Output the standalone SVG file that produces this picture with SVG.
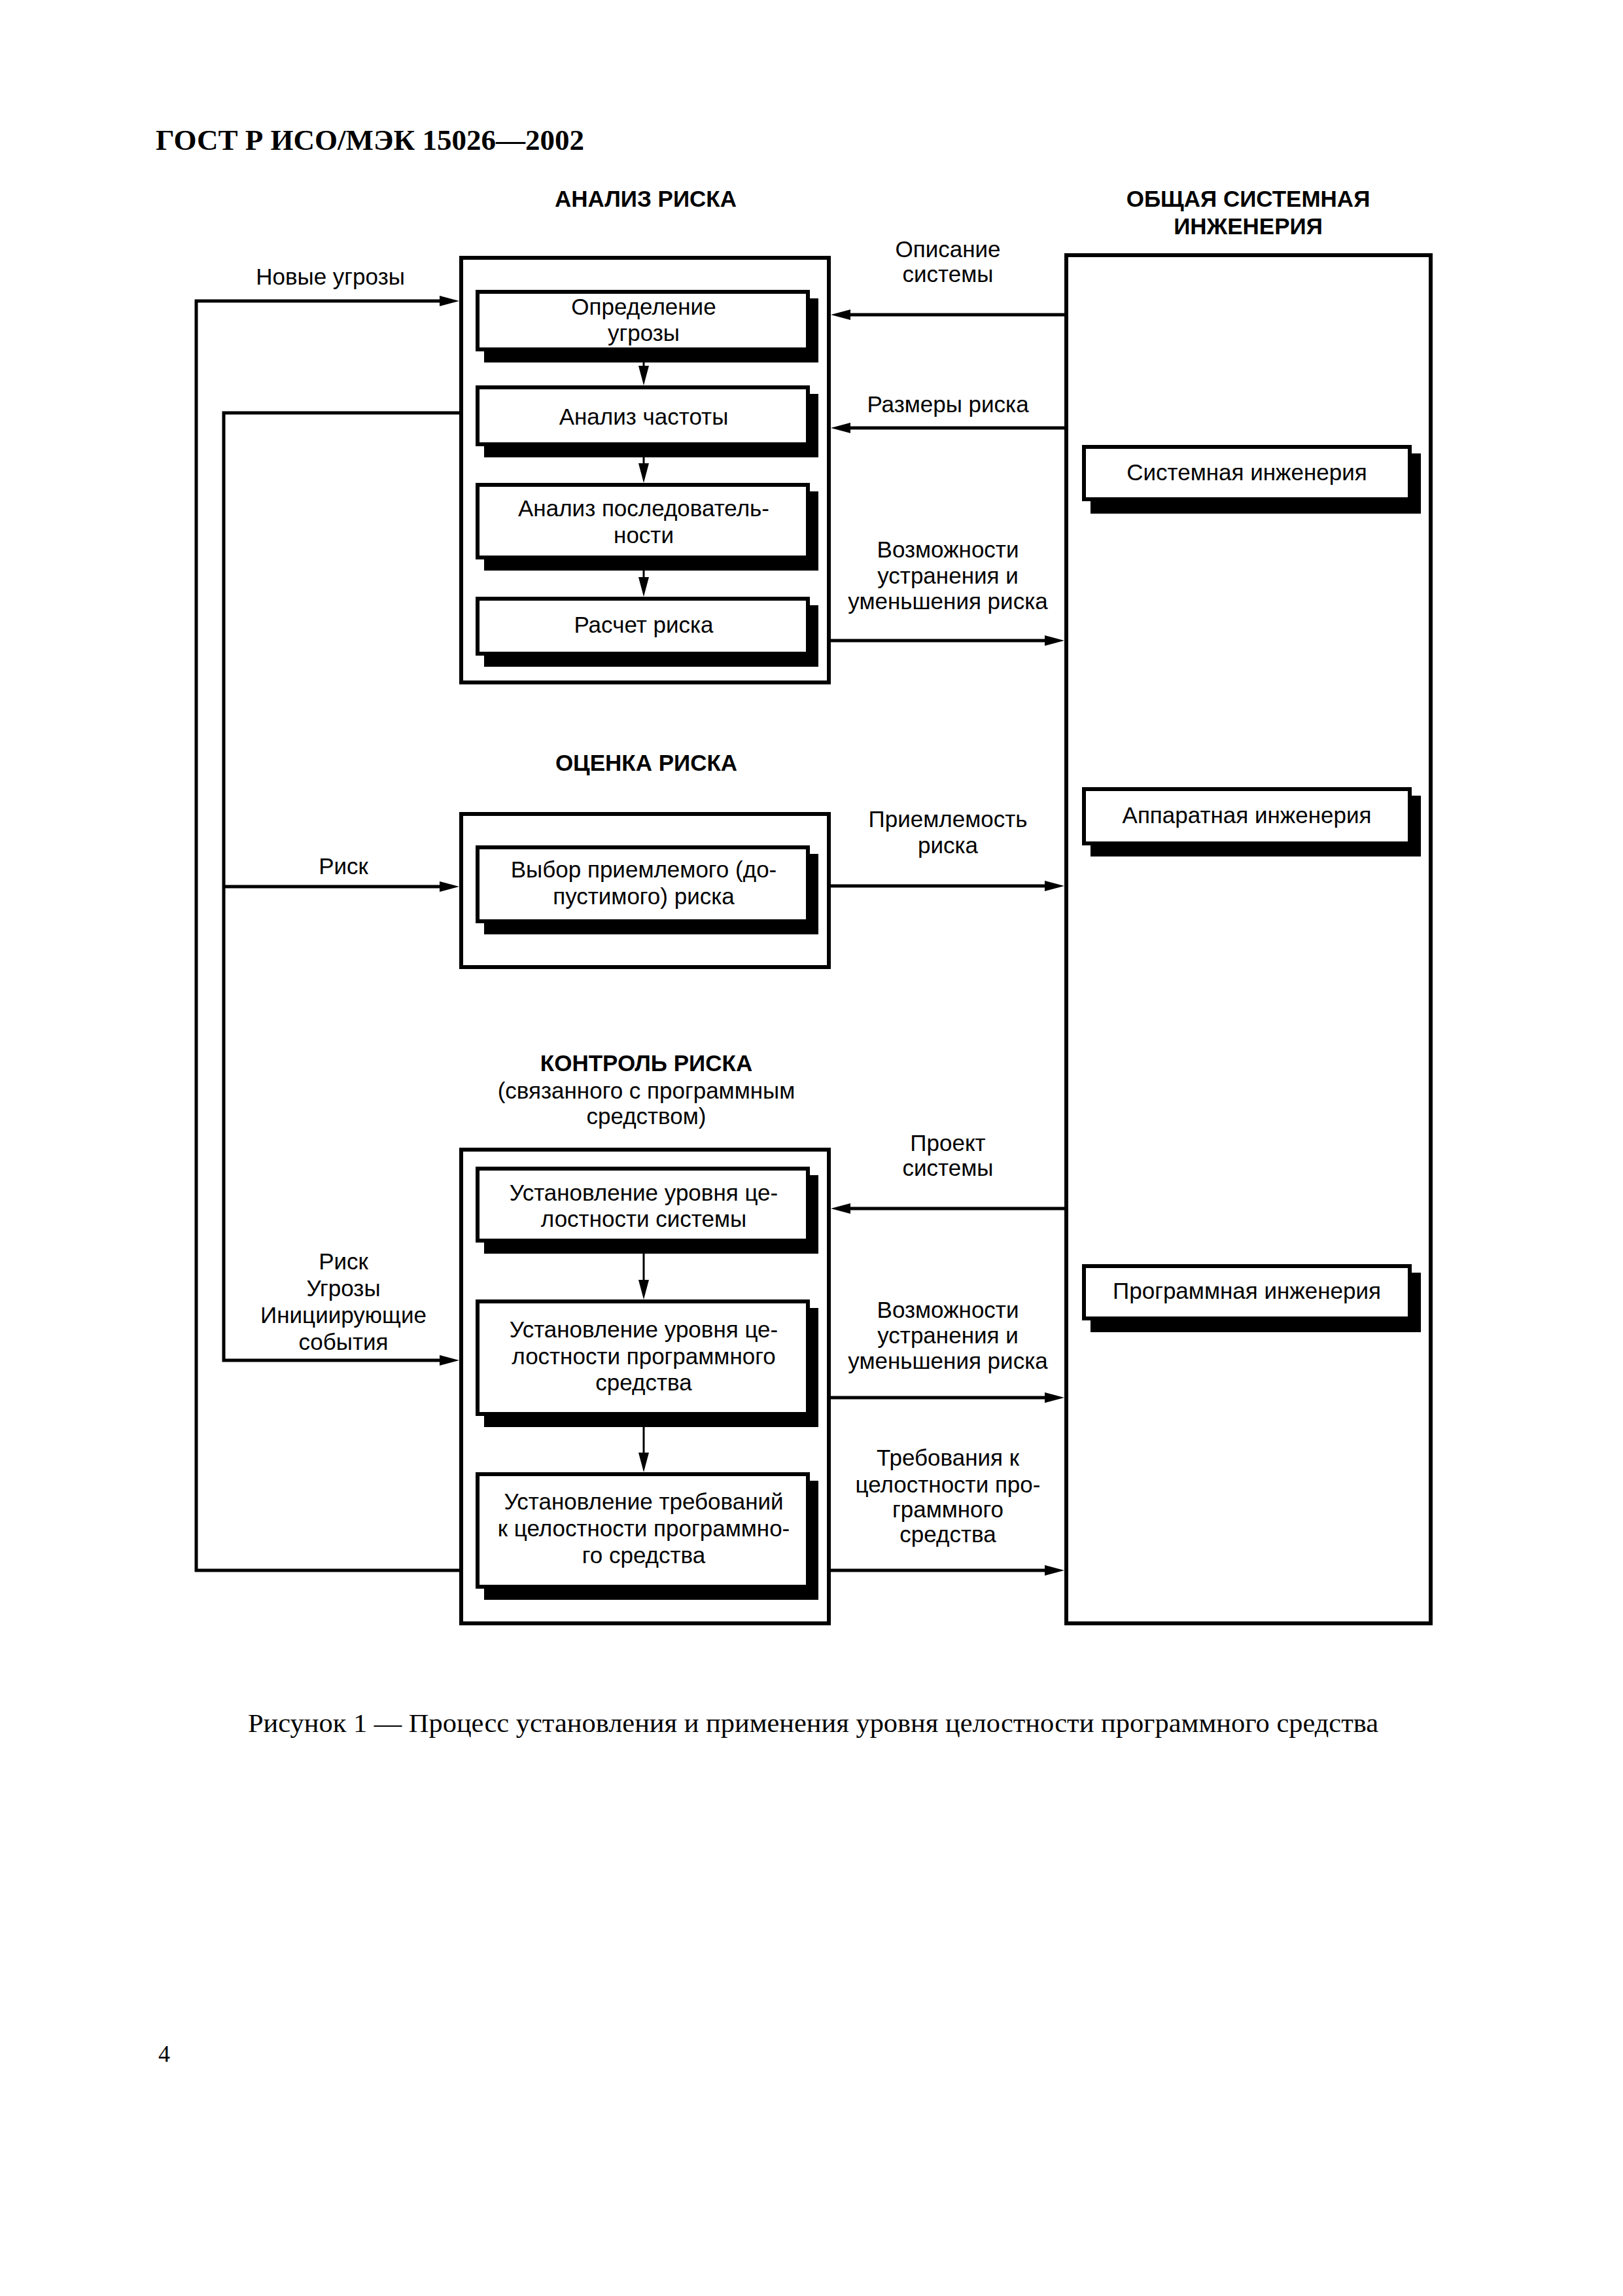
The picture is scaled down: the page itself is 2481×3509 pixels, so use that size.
<svg xmlns="http://www.w3.org/2000/svg" width="2481" height="3509" viewBox="0 0 2481 3509">
<defs>
<style>
.t{font-family:"Liberation Sans",Arial,sans-serif;font-size:35px;fill:#000;text-anchor:middle}
.b{font-family:"Liberation Sans",Arial,sans-serif;font-size:35px;font-weight:bold;fill:#000;text-anchor:middle}
.frame{fill:none;stroke:#000;stroke-width:6}
.box{fill:#fff;stroke:#000;stroke-width:6}
.sh{fill:#000}
.c{fill:none;stroke:#000;stroke-width:5}
.v{fill:none;stroke:#000;stroke-width:3}
</style>
<marker id="ah" markerUnits="userSpaceOnUse" markerWidth="30" markerHeight="16" refX="10" refY="8" orient="auto">
<path d="M0,0 L30,8 L0,16 z" fill="#000"/>
</marker>
</defs>
<rect width="2481" height="3509" fill="#fff"/>

<text x="238" y="229" font-family="Liberation Serif,Times New Roman,serif" font-size="45" font-weight="bold">ГОСТ Р ИСО/МЭК 15026—2002</text>

<!-- section titles -->
<text class="b" x="987" y="316">АНАЛИЗ РИСКА</text>
<text class="b" x="1908" y="316">ОБЩАЯ СИСТЕМНАЯ</text>
<text class="b" x="1908" y="358">ИНЖЕНЕРИЯ</text>
<text class="b" x="988" y="1178">ОЦЕНКА РИСКА</text>
<text class="b" x="988" y="1637">КОНТРОЛЬ РИСКА</text>
<text class="t" x="988" y="1679">(связанного с программным</text>
<text class="t" x="988" y="1718">средством)</text>

<!-- outer frames -->
<g id="frame-analysis"><rect class="frame" x="705" y="394" width="562" height="649"/></g>
<g id="frame-evaluation"><rect class="frame" x="705" y="1244" width="562" height="234"/></g>
<g id="frame-control"><rect class="frame" x="705" y="1757" width="562" height="724"/></g>
<g id="frame-system"><rect class="frame" x="1630" y="390" width="557" height="2091"/></g>

<!-- analysis nodes -->
<g id="n-threat">
<rect class="sh" x="740" y="456" width="511" height="98"/>
<rect class="box" x="730" y="446" width="505" height="88"/>
<text class="t" x="984" y="481">Определение</text>
<text class="t" x="984" y="521">угрозы</text>
</g>
<g id="n-freq">
<rect class="sh" x="740" y="602" width="511" height="97"/>
<rect class="box" x="730" y="592" width="505" height="87"/>
<text class="t" x="984" y="649">Анализ частоты</text>
</g>
<g id="n-seq">
<rect class="sh" x="740" y="751" width="511" height="121"/>
<rect class="box" x="730" y="741" width="505" height="111"/>
<text class="t" x="984" y="789">Анализ последователь-</text>
<text class="t" x="984" y="830">ности</text>
</g>
<g id="n-calc">
<rect class="sh" x="740" y="925" width="511" height="94"/>
<rect class="box" x="730" y="915" width="505" height="84"/>
<text class="t" x="984" y="967">Расчет риска</text>
</g>

<!-- evaluation node -->
<g id="n-accept">
<rect class="sh" x="740" y="1305" width="511" height="123"/>
<rect class="box" x="730" y="1295" width="505" height="113"/>
<text class="t" x="984" y="1341">Выбор приемлемого (до-</text>
<text class="t" x="984" y="1382">пустимого) риска</text>
</g>

<!-- control nodes -->
<g id="n-sil-sys">
<rect class="sh" x="740" y="1796" width="511" height="120"/>
<rect class="box" x="730" y="1786" width="505" height="110"/>
<text class="t" x="984" y="1835">Установление уровня це-</text>
<text class="t" x="984" y="1875">лостности системы</text>
</g>
<g id="n-sil-sw">
<rect class="sh" x="740" y="1999" width="511" height="182"/>
<rect class="box" x="730" y="1989" width="505" height="172"/>
<text class="t" x="984" y="2044">Установление уровня це-</text>
<text class="t" x="984" y="2085">лостности программного</text>
<text class="t" x="984" y="2125">средства</text>
</g>
<g id="n-req">
<rect class="sh" x="740" y="2263" width="511" height="182"/>
<rect class="box" x="730" y="2253" width="505" height="172"/>
<text class="t" x="984" y="2307">Установление требований</text>
<text class="t" x="984" y="2348">к целостности программно-</text>
<text class="t" x="984" y="2389">го средства</text>
</g>

<!-- system engineering nodes -->
<g id="n-syseng">
<rect class="sh" x="1667" y="693" width="505" height="92"/>
<rect class="box" x="1657" y="683" width="498" height="80"/>
<text class="t" x="1906" y="734">Системная инженерия</text>
</g>
<g id="n-hweng">
<rect class="sh" x="1667" y="1216" width="505" height="93"/>
<rect class="box" x="1657" y="1206" width="498" height="83"/>
<text class="t" x="1906" y="1258">Аппаратная инженерия</text>
</g>
<g id="n-sweng">
<rect class="sh" x="1667" y="1945" width="505" height="91"/>
<rect class="box" x="1657" y="1935" width="498" height="80"/>
<text class="t" x="1906" y="1985">Программная инженерия</text>
</g>

<!-- connectors -->
<g id="connectors">
<path class="v" d="M984,554 L984,569" marker-end="url(#ah)"/>
<path class="v" d="M984,699 L984,718" marker-end="url(#ah)"/>
<path class="v" d="M984,872 L984,892" marker-end="url(#ah)"/>
<path class="v" d="M984,1916 L984,1966" marker-end="url(#ah)"/>
<path class="v" d="M984,2181 L984,2230" marker-end="url(#ah)"/>

<path class="c" d="M705,2400 L300,2400 L300,460 L682,460" marker-end="url(#ah)"/>
<path class="c" d="M705,631 L342,631 L342,2079 L682,2079" marker-end="url(#ah)"/>
<path class="c" d="M342,1355 L682,1355" marker-end="url(#ah)"/>

<path class="c" d="M1630,481 L1290,481" marker-end="url(#ah)"/>
<path class="c" d="M1630,654 L1290,654" marker-end="url(#ah)"/>
<path class="c" d="M1267,979 L1607,979" marker-end="url(#ah)"/>
<path class="c" d="M1267,1354 L1607,1354" marker-end="url(#ah)"/>
<path class="c" d="M1630,1847 L1290,1847" marker-end="url(#ah)"/>
<path class="c" d="M1267,2136 L1607,2136" marker-end="url(#ah)"/>
<path class="c" d="M1267,2400 L1607,2400" marker-end="url(#ah)"/>
</g>

<!-- connector labels -->
<g id="labels">
<text class="t" x="505" y="435">Новые угрозы</text>
<text class="t" x="525" y="1336">Риск</text>
<text class="t" x="525" y="1940">Риск</text>
<text class="t" x="525" y="1981">Угрозы</text>
<text class="t" x="525" y="2022">Инициирующие</text>
<text class="t" x="525" y="2063">события</text>

<text class="t" x="1449" y="393">Описание</text>
<text class="t" x="1449" y="431">системы</text>
<text class="t" x="1449" y="630">Размеры риска</text>
<text class="t" x="1449" y="852">Возможности</text>
<text class="t" x="1449" y="892">устранения и</text>
<text class="t" x="1449" y="931">уменьшения риска</text>
<text class="t" x="1449" y="1264">Приемлемость</text>
<text class="t" x="1449" y="1304">риска</text>
<text class="t" x="1449" y="1759">Проект</text>
<text class="t" x="1449" y="1797">системы</text>
<text class="t" x="1449" y="2014">Возможности</text>
<text class="t" x="1449" y="2053">устранения и</text>
<text class="t" x="1449" y="2092">уменьшения риска</text>
<text class="t" x="1449" y="2240">Требования к</text>
<text class="t" x="1449" y="2281">целостности про-</text>
<text class="t" x="1449" y="2319">граммного</text>
<text class="t" x="1449" y="2357">средства</text>
</g>

<text x="1243" y="2647" font-family="Liberation Serif,Times New Roman,serif" font-size="40" text-anchor="middle" textLength="1728" lengthAdjust="spacingAndGlyphs">Рисунок 1 — Процесс установления и применения уровня целостности программного средства</text>
<text x="242" y="3151" font-family="Liberation Serif,Times New Roman,serif" font-size="36">4</text>
</svg>
